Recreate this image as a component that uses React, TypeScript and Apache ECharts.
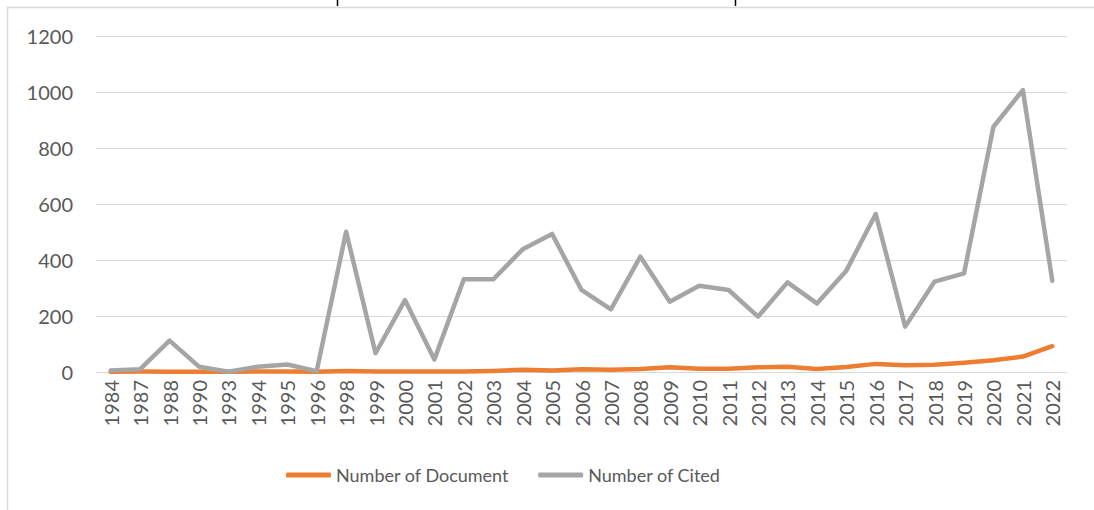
import React, { useEffect, useRef } from "react";
import * as echarts from "echarts";

const years = ["1984","1987","1988","1990","1993","1994","1995","1996","1998","1999","2000","2001","2002","2003","2004","2005","2006","2007","2008","2009","2010","2011","2012","2013","2014","2015","2016","2017","2018","2019","2020","2021","2022"];
const documents = [1,2,1,1,1,2,2,1,4,2,2,2,2,4,8,5,10,8,11,17,12,12,17,19,11,18,29,24,26,33,42,55,92];
const cited = [5,10,112,19,1,19,27,3,501,67,257,45,331,331,438,493,293,224,412,251,308,293,198,320,245,362,564,162,323,352,876,1007,326];
const seriesNames = ["Number of Document", "Number of Cited"];
const colors = ["#ED7D31", "#A5A5A5"];

const FONT = "Lato";

export default function App() {
  const ref = useRef<HTMLDivElement>(null);
  useEffect(() => {
    if (!ref.current) return;
    const chart = echarts.init(ref.current, null, { renderer: "svg" });
    chart.setOption({
      animation: false,
      backgroundColor: "#ffffff",
      graphic: [
        { type: "rect", shape: { x: 7.5, y: 7.5, width: 1200, height: 600 }, style: { fill: "none", stroke: "#D9D9D9", lineWidth: 1.5 }, silent: true },
        { type: "line", shape: { x1: 337.5, y1: 0, x2: 337.5, y2: 6 }, style: { stroke: "#000", lineWidth: 1.5 } },
        { type: "line", shape: { x1: 735.5, y1: 0, x2: 735.5, y2: 6 }, style: { stroke: "#000", lineWidth: 1.5 } },
      ],
      grid: { left: 96, right: 27, top: 36, bottom: 138, containLabel: false },
      legend: {
        data: seriesNames,
        left: 281,
        top: 461,
        icon: "roundRect",
        itemWidth: 45,
        itemHeight: 5,
        itemGap: 29,
        textStyle: { fontFamily: FONT, fontSize: 18, color: "#595959" },
      },
      xAxis: {
        type: "category",
        data: years,
        boundaryGap: true,
        axisLine: { show: true, lineStyle: { color: "#D9D9D9", width: 1 } },
        axisTick: { show: false },
        axisLabel: { rotate: 90, margin: 8, fontFamily: FONT, fontSize: 20, color: "#595959", interval: 0 },
      },
      yAxis: {
        type: "value",
        min: 0,
        max: 1200,
        interval: 200,
        axisLine: { show: false },
        axisTick: { show: false },
        splitLine: { lineStyle: { color: "#D9D9D9", width: 1 } },
        axisLabel: { margin: 23, fontFamily: FONT, fontSize: 20, color: "#595959", formatter: (v: number) => String(v) },
      },
      series: [
        {
          name: seriesNames[0],
          type: "line",
          data: documents,
          symbol: "none",
          color: colors[0],
          lineStyle: { width: 4.5, color: colors[0], cap: "round", join: "round" },
        },
        {
          name: seriesNames[1],
          type: "line",
          data: cited,
          symbol: "none",
          color: colors[1],
          lineStyle: { width: 4.5, color: colors[1], cap: "round", join: "round" },
        },
      ],
    });
    return () => chart.dispose();
  }, []);
  return <div ref={ref} style={{ position: "fixed", left: 0, top: 0, width: 1094, height: 510 }} />;
}
